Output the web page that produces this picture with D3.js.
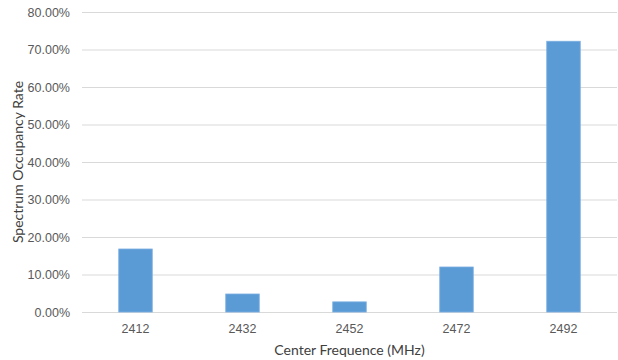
<!DOCTYPE html>
<html>
<head>
<meta charset="utf-8">
<script src="https://cdn.jsdelivr.net/npm/d3@7"></script>
<style>
  html, body { margin: 0; padding: 0; background: #fff; }
  svg { display: block; font-family: Lato, "Open Sans", sans-serif; }
</style>
</head>
<body>
<svg id="chart" width="618" height="360"></svg>
<script>
// Channel centre frequencies (MHz) and occupancy rates (%)
const categories = ["2412", "2432", "2452", "2472", "2492"];
const occupancy = [16.8, 4.8, 2.7, 12.0, 72.2];
const yTicks = [0, 10, 20, 30, 40, 50, 60, 70, 80];

const svg = d3.select("#chart");
const margin = { top: 12, right: 1, bottom: 48, left: 82 };
const width = 618 - margin.left - margin.right;
const height = 360 - margin.top - margin.bottom;

const g = svg.append("g").attr("transform", `translate(${margin.left},${margin.top})`);

const x = d3.scaleBand().domain(categories).range([0, width]).paddingInner(0.687).paddingOuter(0.3435);
const y = d3.scaleLinear().domain([0, 80]).range([height, 0]);

// Horizontal gridlines
g.append("g")
  .selectAll("line")
  .data(yTicks)
  .join("line")
  .attr("x1", 0).attr("x2", width)
  .attr("y1", d => y(d) + 0.5).attr("y2", d => y(d) + 0.5)
  .attr("stroke", "#d9d9d9").attr("stroke-width", 1);

// Y axis labels
const yAxis = g.append("g")
  .call(d3.axisLeft(y).tickValues(yTicks).tickFormat(d => d.toFixed(2) + "%").tickSize(0).tickPadding(12));
yAxis.select(".domain").remove();
yAxis.selectAll("text").attr("fill", "#595959").attr("font-size", 12.5);

// X axis labels
const xAxis = g.append("g")
  .attr("transform", `translate(0,${height})`)
  .call(d3.axisBottom(x).tickSize(0).tickPadding(12));
xAxis.select(".domain").remove();
xAxis.selectAll("text").attr("fill", "#595959").attr("font-size", 12.5);

// Bars
g.append("g")
  .selectAll("rect")
  .data(categories.map((c, i) => ({ c, v: occupancy[i] })))
  .join("rect")
  .attr("x", d => x(d.c))
  .attr("y", d => y(d.v))
  .attr("width", x.bandwidth())
  .attr("height", d => y(0) - y(d.v))
  .attr("fill", "#5b9bd5")
  .attr("stroke", "#7aaee0")
  .attr("stroke-width", 0.8);

// Axis titles
svg.append("text")
  .attr("x", margin.left + width / 2)
  .attr("y", 355)
  .attr("text-anchor", "middle")
  .attr("fill", "#404040")
  .attr("font-size", 14)
  .text("Center Frequence (MHz)");

svg.append("text")
  .attr("transform", `translate(23,${margin.top + height / 2}) rotate(-90)`)
  .attr("text-anchor", "middle")
  .attr("fill", "#404040")
  .attr("font-size", 14)
  .text("Spectrum Occupancy Rate");
</script>
</body>
</html>
